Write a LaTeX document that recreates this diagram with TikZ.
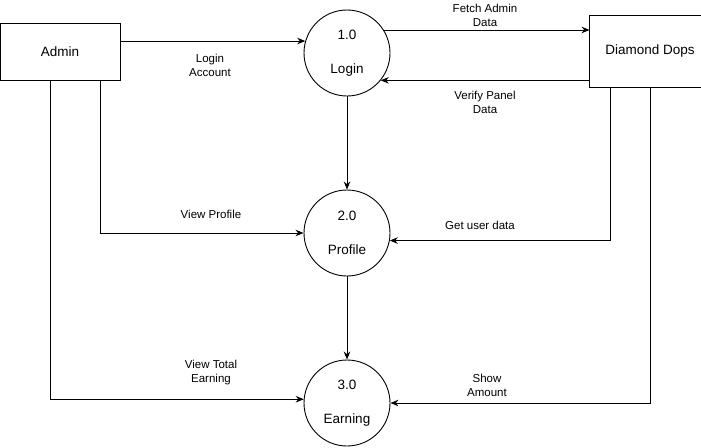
\documentclass[tikz,border=0pt]{standalone}
\usepackage{fontspec}
\setmainfont{Liberation Sans}
\usepackage{tikz}
\usetikzlibrary{calc,positioning,arrows.meta,shapes}
\tikzset{proc/.style={draw,circle,minimum size=86pt,inner sep=0pt,align=center,font=\fontsize{13.5}{15}\selectfont},ent/.style={draw,rectangle,minimum height=57pt,inner sep=0pt,font=\fontsize{13.5}{15}\selectfont}}

\begin{document}
\begin{tikzpicture}[x=1pt,y=-1pt,line width=0.9pt,>={Stealth[length=8pt,width=6.5pt]},lbl/.style={align=center,inner sep=0pt,font=\fontsize{11.5}{14}\selectfont}]
			\useasboundingbox (0,0) rectangle (701,447);
			\node[ent,minimum width=120pt] (admin) at (60,51.5) {Admin};
			\node[ent,draw=none,minimum width=120pt,minimum height=71pt] (dops) at (650,51.5) {Diamond Dops};
			\draw ([xshift=20pt]dops.north east) -| (dops.south west) -- ([xshift=20pt]dops.south east);

			\node[proc] (login) at (347,53) {1.0\\[19pt]Login};
			\node[proc] (profile) at (347,233) {2.0\\[19pt]Profile};
			\node[proc] (earning) at (347,403) {3.0\\[19pt]Earning};

			\node[lbl] (lacc) at (210,65) {Login\\Account};
			\node[lbl] (lfetch) at (485,15) {Fetch Admin\\Data};
			\node[lbl] (lverify) at (485,102) {Verify Panel\\Data};
			\node[lbl] (lview) at (211,214) {View Profile};
			\node[lbl] (lget) at (480,225) {Get user data};
			\node[lbl] (ltotal) at (211,373) {View Total\\Earning};
			\node[lbl] (lshow) at (487,385) {Show\\Amount};

			\draw[->] (admin.east |- login.164) -- (login.164);
			\draw[->] (login.32) -- (dops.west |- login.32);
			\draw[->] (dops.west |- login.-39) -- (login.-39);
			\draw[->] (login.south) -- (profile.north);
			\draw[->] ([xshift=40pt]admin.south) |- (profile.west);
			\draw[->] ([xshift=-40pt]dops.south) |- (profile.-10);
			\draw[->] (profile.south) -- (earning.north);
			\draw[->] ([xshift=-10pt]admin.south) |- (earning.175);
			\draw[->] (dops.south) |- (earning.east);
		\end{tikzpicture}
\end{document}
